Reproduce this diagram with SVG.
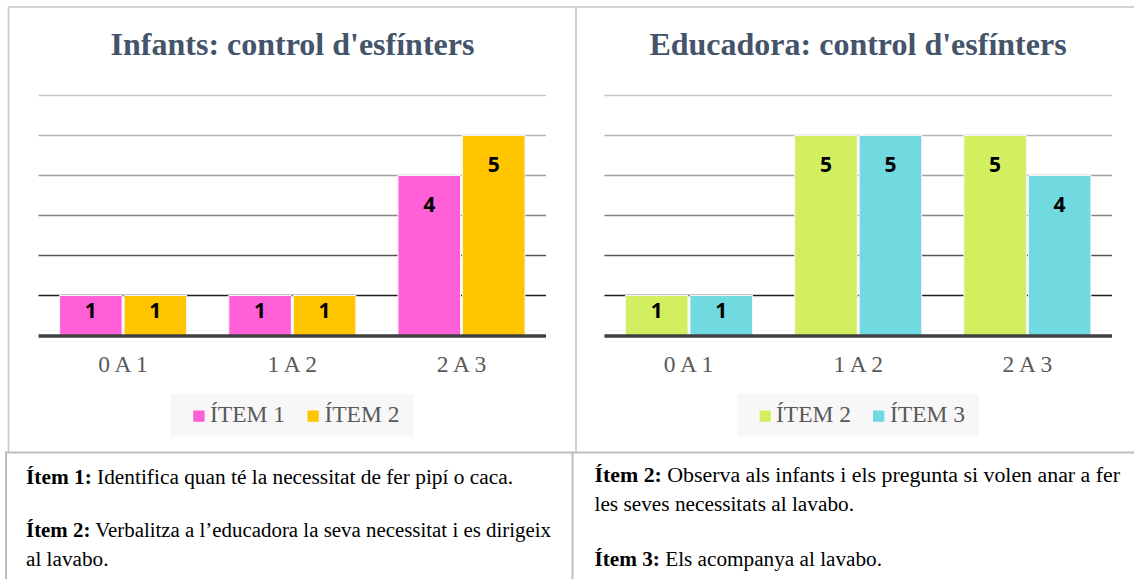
<svg xmlns="http://www.w3.org/2000/svg" width="1134" height="579" viewBox="0 0 1134 579">
<style>
.title{font-family:"Liberation Serif","Times New Roman",serif;font-weight:bold;font-size:32px;fill:#44546A;text-anchor:middle}
.cat{font-family:"Liberation Serif","Times New Roman",serif;font-size:23.5px;fill:#595959;text-anchor:middle}
.leg{font-family:"Liberation Serif","Times New Roman",serif;font-size:23.5px;fill:#595959}
.val{font-family:"Open Sans","Noto Sans",sans-serif;font-weight:bold;font-size:21px;fill:#000;text-anchor:middle}
.note{font-family:"Liberation Serif","Times New Roman",serif;font-size:20.5px;fill:#000}
.b{font-weight:bold}
.frame{stroke:#c8c8c8;stroke-width:1.6;fill:none}
.tbl{stroke:#bdbdbd;stroke-width:2;fill:none}
.bar{stroke:#f4f4f4;stroke-width:1}
.pink{fill:#FF5FD7}
.yel{fill:#FFC600}
.grn{fill:#D1EF5F}
.cyn{fill:#71D9E0}
.axis{stroke:#404040;stroke-width:3.5}
</style>
<rect x="0" y="0" width="1134" height="579" fill="#ffffff"/>

<g id="frames">
  <line class="frame" x1="8" y1="7" x2="1134" y2="7"/>
  <line class="frame" x1="8.5" y1="7" x2="8.5" y2="452"/>
  <line class="frame" x1="576" y1="7" x2="576" y2="452"/>
  <line class="tbl" x1="5" y1="452.5" x2="1134" y2="452.5"/>
  <line class="tbl" x1="6" y1="452" x2="6" y2="579"/>
  <line class="tbl" x1="572.5" y1="452" x2="572.5" y2="579"/>
</g>

<g id="chart-infants">
  <text class="title" x="292.5" y="55">Infants: control d'esfínters</text>
  <g id="grid-left">
    <line x1="38.5" y1="95.5" x2="546" y2="95.5" stroke="#c4c4c4" stroke-width="1.5"/>
    <line x1="38.5" y1="135.5" x2="546" y2="135.5" stroke="#b4b4b4" stroke-width="1.5"/>
    <line x1="38.5" y1="175.5" x2="546" y2="175.5" stroke="#a0a0a0" stroke-width="1.5"/>
    <line x1="38.5" y1="215.5" x2="546" y2="215.5" stroke="#848484" stroke-width="1.5"/>
    <line x1="38.5" y1="255.5" x2="546" y2="255.5" stroke="#555555" stroke-width="1.5"/>
    <line x1="38.5" y1="295.5" x2="546" y2="295.5" stroke="#1e1e1e" stroke-width="1.5"/>
  </g>
  <g id="bars-left">
    <rect class="bar pink" x="59.6" y="295.5" width="62.5" height="40"/>
    <rect class="bar yel" x="124.1" y="295.5" width="62.5" height="40"/>
    <rect class="bar pink" x="228.8" y="295.5" width="62.5" height="40"/>
    <rect class="bar yel" x="293.3" y="295.5" width="62.5" height="40"/>
    <rect class="bar pink" x="398" y="175.5" width="62.5" height="160"/>
    <rect class="bar yel" x="462.5" y="135.5" width="62.5" height="200"/>
  </g>
  <line class="axis" x1="38.5" y1="336" x2="546" y2="336"/>
  <text class="val" x="90.8" y="318">1</text>
  <text class="val" x="155.3" y="318">1</text>
  <text class="val" x="260" y="318">1</text>
  <text class="val" x="324.5" y="318">1</text>
  <text class="val" x="429.2" y="211.7">4</text>
  <text class="val" x="493.7" y="171.7">5</text>
  <text class="cat" x="123" y="372">0 A 1</text>
  <text class="cat" x="292.3" y="372">1 A 2</text>
  <text class="cat" x="461.5" y="372">2 A 3</text>
  <g id="legend-left">
    <rect x="171" y="394" width="242.7" height="42.7" fill="#f7f7f7"/>
    <rect class="pink" x="193.3" y="410.5" width="11.3" height="11.3"/>
    <text class="leg" x="210" y="421.5">ÍTEM 1</text>
    <rect class="yel" x="307.5" y="410.5" width="11.3" height="11.3"/>
    <text class="leg" x="324.4" y="421.5">ÍTEM 2</text>
  </g>
</g>

<g id="chart-educadora">
  <text class="title" x="858" y="55">Educadora: control d'esfínters</text>
  <g id="grid-right">
    <line x1="604.4" y1="95.5" x2="1112" y2="95.5" stroke="#c4c4c4" stroke-width="1.5"/>
    <line x1="604.4" y1="135.5" x2="1112" y2="135.5" stroke="#b4b4b4" stroke-width="1.5"/>
    <line x1="604.4" y1="175.5" x2="1112" y2="175.5" stroke="#a0a0a0" stroke-width="1.5"/>
    <line x1="604.4" y1="215.5" x2="1112" y2="215.5" stroke="#848484" stroke-width="1.5"/>
    <line x1="604.4" y1="255.5" x2="1112" y2="255.5" stroke="#555555" stroke-width="1.5"/>
    <line x1="604.4" y1="295.5" x2="1112" y2="295.5" stroke="#1e1e1e" stroke-width="1.5"/>
  </g>
  <g id="bars-right">
    <rect class="bar grn" x="625.5" y="295.5" width="62.5" height="40"/>
    <rect class="bar cyn" x="690" y="295.5" width="62.5" height="40"/>
    <rect class="bar grn" x="794.7" y="135.5" width="62.5" height="200"/>
    <rect class="bar cyn" x="859.2" y="135.5" width="62.5" height="200"/>
    <rect class="bar grn" x="963.9" y="135.5" width="62.5" height="200"/>
    <rect class="bar cyn" x="1028.4" y="175.5" width="62.5" height="160"/>
  </g>
  <line class="axis" x1="604.4" y1="336" x2="1112" y2="336"/>
  <text class="val" x="656.7" y="318">1</text>
  <text class="val" x="721.2" y="318">1</text>
  <text class="val" x="825.9" y="171.7">5</text>
  <text class="val" x="890.4" y="171.7">5</text>
  <text class="val" x="995.1" y="171.7">5</text>
  <text class="val" x="1059.6" y="211.7">4</text>
  <text class="cat" x="688.5" y="372">0 A 1</text>
  <text class="cat" x="858.2" y="372">1 A 2</text>
  <text class="cat" x="1027.4" y="372">2 A 3</text>
  <g id="legend-right">
    <rect x="737.3" y="394" width="241.7" height="42.7" fill="#f7f7f7"/>
    <rect class="grn" x="759.6" y="410.5" width="11.3" height="11.3"/>
    <text class="leg" x="776" y="421.5">ÍTEM 2</text>
    <rect class="cyn" x="873" y="410.5" width="11.3" height="11.3"/>
    <text class="leg" x="890" y="421.5">ÍTEM 3</text>
  </g>
</g>

<g id="notes-left">
  <text class="note" x="26" y="484" textLength="487" lengthAdjust="spacingAndGlyphs"><tspan class="b">Ítem 1:</tspan> Identifica quan té la necessitat de fer pipí o caca.</text>
  <text class="note" x="26" y="537" textLength="525" lengthAdjust="spacingAndGlyphs"><tspan class="b">Ítem 2:</tspan> Verbalitza a l’educadora la seva necessitat i es dirigeix</text>
  <text class="note" x="26" y="566" textLength="82.5" lengthAdjust="spacingAndGlyphs">al lavabo.</text>
</g>

<g id="notes-right">
  <text class="note" x="594.5" y="482" textLength="525.5" lengthAdjust="spacingAndGlyphs"><tspan class="b">Ítem 2:</tspan> Observa als infants i els pregunta si volen anar a fer</text>
  <text class="note" x="594.5" y="511" textLength="259.5" lengthAdjust="spacingAndGlyphs">les seves necessitats al lavabo.</text>
  <text class="note" x="594.5" y="566" textLength="287.5" lengthAdjust="spacingAndGlyphs"><tspan class="b">Ítem 3:</tspan> Els acompanya al lavabo.</text>
</g>
</svg>
